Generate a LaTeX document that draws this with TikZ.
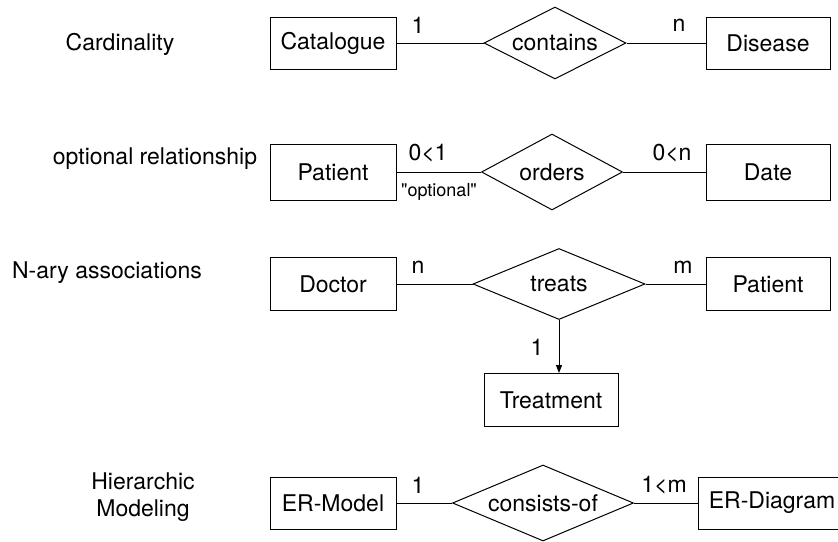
\documentclass[tikz,border=0pt]{standalone}
\usepackage{fontspec}
\setmainfont{TeX Gyre Heros}
\usetikzlibrary{shapes.geometric,arrows.meta}

\begin{document}
\begin{tikzpicture}[x=1pt,y=-1pt,line width=1pt,
    every node/.style={font=\fontsize{23}{27}\selectfont},
    entity/.style={draw,minimum width=126pt,minimum height=52pt,inner sep=0pt},
    relation/.style={draw,diamond,aspect=2,inner sep=0pt},
    card/.style={inner sep=0pt},
    note/.style={inner sep=0pt,font=\fontsize{18}{21}\selectfont}]
\path[use as bounding box,clip] (0,0) rectangle (838,541);
    \node[card] (t_card) at (120,44) {Cardinality};
    \node[card] (t_opt) at (155,159) {optional relationship};
    \node[card] (t_nary) at (107,273) {N-ary associations};
    \node[card,align=center] (t_hier) at (143,497) {Hierarchic\\Modeling};

    \node[entity] (catalogue) at (333,43) {Catalogue};
    \node[relation,minimum width=142pt,minimum height=72pt] (contains) at (555,43) {contains};
    \node[entity,minimum width=124pt] (disease) at (768,43) {Disease};
    \draw (catalogue) -- (contains);
    \draw (contains) -- (disease);
    \node[card] (c_11) at (418,25) {1};
    \node[card] (c_1n) at (679,25) {n};

    \node[entity,minimum height=56pt] (patient_a) at (333,172) {Patient};
    \node[relation,minimum width=141pt,minimum height=76pt] (orders) at (552,172) {orders};
    \node[entity,minimum width=124pt,minimum height=56pt] (date) at (768,172) {Date};
    \draw (patient_a) -- (orders);
    \draw (orders) -- (date);
    \node[card] (c_21) at (428,153) {0<1};
    \node[note] (c_2opt) at (439,192) {\textquotedbl optional\textquotedbl};
    \node[card] (c_2n) at (672,153) {0<n};

    \node[entity,minimum height=53pt] (doctor) at (333,284) {Doctor};
    \node[relation,minimum width=172pt,minimum height=71pt] (treats) at (559,284) {treats};
    \node[entity,minimum width=124pt,minimum height=53pt] (patient_b) at (768,284) {Patient};
    \node[entity,minimum width=134pt,minimum height=53pt] (treatment) at (551,400) {Treatment};
    \draw (doctor) -- (treats);
    \draw (treats) -- (patient_b);
    \draw[-{Triangle[length=8pt,width=6pt]}] (treats.south) -- (treats.south |- treatment.north);
    \node[card] (c_3n) at (418,267) {n};
    \node[card] (c_3m) at (683,267) {m};
    \node[card] (c_31) at (537,347) {1};

    \node[entity] (ermodel) at (333,503) {ER-Model};
    \node[relation,minimum width=181pt,minimum height=76pt] (consists) at (543,503) {consists-of};
    \node[entity,minimum width=148pt] (erdiagram) at (772,503) {ER-Diagram};
    \draw (ermodel) -- (consists);
    \draw (consists) -- (erdiagram);
    \node[card] (c_41) at (418,485) {1};
    \node[card] (c_4m) at (664,485) {1<m};
\end{tikzpicture}
\end{document}
